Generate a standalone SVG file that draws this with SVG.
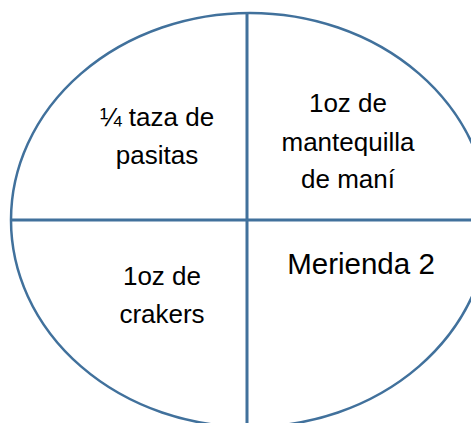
<svg xmlns="http://www.w3.org/2000/svg" width="471" height="423" viewBox="0 0 471 423">
<style>
.ln{stroke:#41719C;fill:none}
.t{font-family:"Liberation Sans",Arial,sans-serif;font-size:26px;fill:#000;text-anchor:middle}
.big{font-size:29.5px}
</style>
<rect width="471" height="423" fill="#fff"/>
<g id="plate">
<ellipse class="ln" cx="250" cy="220" rx="239" ry="207" stroke-width="2.5"/>
</g>
<g id="connectors">
<line class="ln" x1="247" y1="12" x2="247" y2="423" stroke-width="3"/>
<line class="ln" x1="11" y1="220" x2="471" y2="220" stroke-width="3"/>
</g>
<g id="pasitas">
<text class="t" x="157" y="126">¼ taza de</text>
<text class="t" x="157" y="164">pasitas</text>
</g>
<g id="mantequilla">
<text class="t" x="348" y="112">1oz de</text>
<text class="t" x="348" y="151">mantequilla</text>
<text class="t" x="348" y="188">de maní</text>
</g>
<g id="crakers">
<text class="t" x="162" y="285">1oz de</text>
<text class="t" x="162" y="323">crakers</text>
</g>
<g id="merienda">
<text class="t big" x="361" y="274">Merienda 2</text>
</g>
</svg>
